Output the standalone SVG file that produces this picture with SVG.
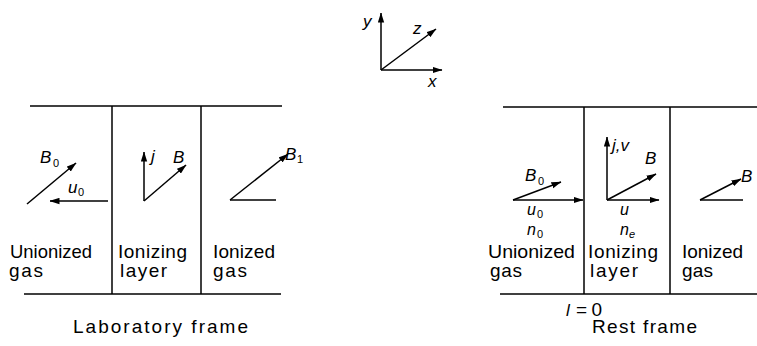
<svg xmlns="http://www.w3.org/2000/svg" width="757" height="346" viewBox="0 0 757 346">
<defs>
<marker id="ah" markerUnits="userSpaceOnUse" markerWidth="10" markerHeight="7" refX="9.5" refY="3.5" orient="auto">
<path d="M0,0.3 L10,3.5 L0,6.7 z" fill="#000"/>
</marker>
<style>
.ln{stroke:#000;stroke-width:1.5;fill:none}
.ar{stroke:#000;stroke-width:1.5;fill:none;marker-end:url(#ah)}
.t{font-family:"Liberation Sans",Arial,sans-serif;font-size:19px;fill:#000}
.v{font-family:"Liberation Sans",Arial,sans-serif;font-style:italic;font-size:17px;fill:#000}
.w{font-family:"Liberation Sans",Arial,sans-serif;font-style:italic;font-size:16px;fill:#000}
.s{font-family:"Liberation Sans",Arial,sans-serif;font-size:11px;fill:#000}
.si{font-family:"Liberation Sans",Arial,sans-serif;font-style:italic;font-size:11px;fill:#000}
</style>
</defs>
<rect width="757" height="346" fill="#fff"/>

<g id="axes">
<line class="ar" x1="381" y1="70" x2="381" y2="13"/>
<line class="ar" x1="381" y1="70" x2="442" y2="70"/>
<line class="ar" x1="381" y1="70" x2="436" y2="29"/>
<text class="v" x="363" y="27">y</text>
<text class="v" x="413" y="34">z</text>
<text class="v" x="428" y="87">x</text>
</g>

<g id="lab-frame">
<line class="ln" x1="30" y1="106" x2="282" y2="106"/>
<line class="ln" x1="24" y1="294" x2="281" y2="294"/>
<line class="ln" x1="112" y1="106" x2="112" y2="294"/>
<line class="ln" x1="201" y1="106" x2="201" y2="294"/>
<text class="t" x="73" y="333" textLength="175" lengthAdjust="spacing">Laboratory frame</text>
</g>

<g id="connectors">
<line class="ar" x1="27" y1="204" x2="76" y2="163"/>
<line class="ar" x1="108" y1="201" x2="50" y2="201"/>
<line class="ar" x1="144" y1="201" x2="144" y2="152"/>
<line class="ar" x1="144" y1="201" x2="186" y2="165"/>
<line class="ar" x1="230" y1="200" x2="288" y2="154"/>
<line class="ln" x1="230" y1="200" x2="276" y2="200"/>
<line class="ar" x1="513" y1="200" x2="561" y2="182"/>
<line class="ar" x1="513" y1="200" x2="583" y2="200"/>
<line class="ar" x1="607" y1="200" x2="607" y2="137"/>
<line class="ar" x1="607" y1="200" x2="656" y2="174"/>
<line class="ar" x1="607" y1="200" x2="659" y2="200"/>
<line class="ar" x1="700" y1="200" x2="741" y2="179"/>
<line class="ln" x1="700" y1="200" x2="743" y2="200"/>
</g>

<g id="lab-unionized">
<text class="v" x="40" y="163">B</text><text class="s" x="53" y="167">0</text>
<text class="v" x="68" y="193">u</text><text class="s" x="78" y="196">0</text>
<text class="t" x="10" y="258" textLength="82" lengthAdjust="spacingAndGlyphs">Unionized</text>
<text class="t" x="9" y="277" textLength="34" lengthAdjust="spacing">gas</text>
</g>

<g id="lab-ionizing">
<text class="v" x="151" y="162">j</text>
<text class="v" x="173" y="163">B</text>
<text class="t" x="118" y="258" textLength="69" lengthAdjust="spacing">Ionizing</text>
<text class="t" x="120" y="277" textLength="47" lengthAdjust="spacing">layer</text>
</g>

<g id="lab-ionized">
<text class="v" x="285" y="160">B</text><text class="s" x="297" y="163">1</text>
<text class="t" x="213" y="258" textLength="62" lengthAdjust="spacing">Ionized</text>
<text class="t" x="213" y="277" textLength="34" lengthAdjust="spacing">gas</text>
</g>

<g id="rest-frame">
<line class="ln" x1="503" y1="107" x2="757" y2="107"/>
<line class="ln" x1="500" y1="294" x2="757" y2="294"/>
<line class="ln" x1="584" y1="107" x2="584" y2="294"/>
<line class="ln" x1="670" y1="107" x2="670" y2="294"/>
<text class="v" x="566" y="316">l</text>
<text class="t" x="576" y="316" font-size="16" textLength="26" lengthAdjust="spacing">= 0</text>
<text class="t" x="592" y="333" textLength="105" lengthAdjust="spacing">Rest frame</text>
</g>

<g id="rest-unionized">
<text class="v" x="525" y="181">B</text><text class="s" x="538" y="185">0</text>
<text class="w" x="527" y="215">u</text><text class="s" x="537" y="218">0</text>
<text class="w" x="527" y="235">n</text><text class="s" x="537" y="238">0</text>
<text class="t" x="488" y="258" textLength="87" lengthAdjust="spacingAndGlyphs">Unionized</text>
<text class="t" x="490" y="277" textLength="32" lengthAdjust="spacing">gas</text>
</g>

<g id="rest-ionizing">
<text class="v" x="612" y="151">j,v</text>
<text class="v" x="645" y="164">B</text>
<text class="w" x="620" y="215">u</text>
<text class="w" x="620" y="235">n</text><text class="si" x="629" y="238">e</text>
<text class="t" x="588" y="258" textLength="70" lengthAdjust="spacing">Ionizing</text>
<text class="t" x="590" y="277" textLength="48" lengthAdjust="spacing">layer</text>
</g>

<g id="rest-ionized">
<text class="v" x="741" y="182">B</text>
<text class="t" x="682" y="258" textLength="61" lengthAdjust="spacing">Ionized</text>
<text class="t" x="682" y="277" textLength="31" lengthAdjust="spacing">gas</text>
</g>
</svg>
